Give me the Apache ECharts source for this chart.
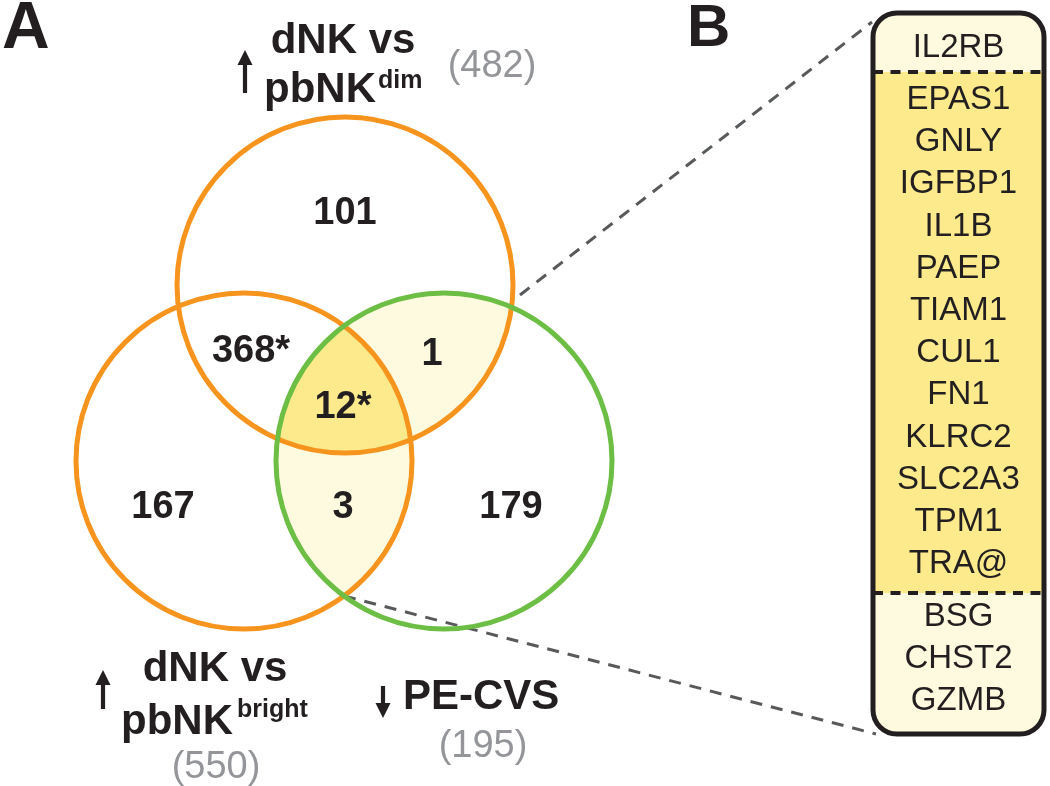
<!DOCTYPE html>
<html><head><meta charset="utf-8">
<script src="https://cdn.jsdelivr.net/npm/echarts@6/dist/echarts.min.js"></script>
<style>html,body{margin:0;padding:0;background:#fff}#c{width:1050px;height:786px}</style>
</head><body><div id="c"></div>
<script>
// ---------------- data ----------------
const setNames = ['dNK vs pbNK dim', 'dNK vs pbNK bright', 'PE-CVS'];
const setTotals = [482, 550, 195];
// regions: only top, top&left, only left, top&green, all three, left&green, only green
const regionCounts = [101, 368, 167, 1, 12, 3, 179];
const regionSignificant = [false, true, false, false, true, false, false];
const genesTopGreen = ['IL2RB'];
const genesAll = ['EPAS1', 'GNLY', 'IGFBP1', 'IL1B', 'PAEP', 'TIAM1', 'CUL1', 'FN1', 'KLRC2', 'SLC2A3', 'TPM1', 'TRA@'];
const genesLeftGreen = ['BSG', 'CHST2', 'GZMB'];

// ---------------- layout (positions / styles) ----------------
const W = 1050, H = 786;
const circleLayout = [ // cx, cy, r
  [345, 285, 168],
  [244, 461, 168],
  [444, 461, 168]
];
const circleColors = ['#F7941E', '#F7941E', '#6CBE45'];
const regionPos = [[345, 214], [251, 352], [163, 508], [432, 355], [343, 408], [343, 508], [511, 508]];
const LIGHT = '#FEFADF', DARK = '#FCEA8C', INK = '#231F20', GRAY = '#939598';
const FONT = "'Liberation Sans', Arial, Helvetica, sans-serif";

function inside(p, c, tol) {
  const dx = p[0] - c[0], dy = p[1] - c[1];
  return dx * dx + dy * dy <= (c[2] + tol) * (c[2] + tol);
}
function intersectionPolygon(ids) {
  const pts = [];
  ids.forEach(i => {
    const c = circleLayout[i];
    for (let k = 0; k < 1440; k++) {
      const a = k / 1440 * Math.PI * 2;
      const p = [c[0] + c[2] * Math.cos(a), c[1] + c[2] * Math.sin(a)];
      if (ids.every(j => j === i || inside(p, circleLayout[j], 0.01))) pts.push(p);
    }
  });
  const mx = pts.reduce((s, p) => s + p[0], 0) / pts.length;
  const my = pts.reduce((s, p) => s + p[1], 0) / pts.length;
  pts.sort((a, b) => Math.atan2(a[1] - my, a[0] - mx) - Math.atan2(b[1] - my, b[0] - mx));
  return pts;
}
const fillSets = [[0, 2], [1, 2], [0, 1, 2]];
const fillColors = [LIGHT, LIGHT, DARK];

const chart = echarts.init(document.getElementById('c'), null, { renderer: 'canvas' });

function txt(text, x, y, size, opts) {
  opts = opts || {};
  return {
    type: 'text', silent: true, z: 10,
    style: {
      text: text, x: x, y: y,
      font: (opts.bold ? 'bold ' : '') + size + 'px ' + FONT,
      fill: opts.fill || INK,
      align: opts.align || 'left',
      verticalAlign: 'middle'
    }
  };
}
function arrow(x, y1, y2) { // tip at y1
  const dir = y2 > y1 ? 1 : -1;
  const hl = 15, hw = 7.5;
  return [
    { type: 'line', silent: true, shape: { x1: x, y1: y1 + dir * (hl - 2), x2: x, y2: y2 }, style: { stroke: INK, lineWidth: 4.2 } },
    { type: 'polygon', silent: true, shape: { points: [[x, y1], [x - hw, y1 + dir * hl], [x + hw, y1 + dir * hl]] }, style: { fill: INK } }
  ];
}

// panel B
const box = { x: 873, y: 13, w: 171, h: 721, r: 24 };
const sep1 = 72, sep2 = 593;
const cxB = box.x + box.w / 2;
const graphics = [];
graphics.push({ type: 'rect', silent: true, shape: { x: box.x, y: box.y, width: box.w, height: box.h, r: box.r }, style: { fill: LIGHT } });
graphics.push({ type: 'rect', silent: true, shape: { x: box.x, y: sep1, width: box.w, height: sep2 - sep1 }, style: { fill: DARK } });
[sep1, sep2].forEach(yy => graphics.push({ type: 'line', silent: true, shape: { x1: box.x, y1: yy, x2: box.x + box.w, y2: yy }, style: { stroke: INK, lineWidth: 4, lineDash: [10, 7.5] } }));
graphics.push({ type: 'rect', silent: true, z: 5, shape: { x: box.x, y: box.y, width: box.w, height: box.h, r: box.r }, style: { fill: 'none', stroke: INK, lineWidth: 5 } });
genesTopGreen.forEach((g, i) => graphics.push(txt(g, cxB, 48 + i * 42.2, 33, { align: 'center' })));
genesAll.forEach((g, i) => graphics.push(txt(g, cxB, 100 + i * 42.2, 33, { align: 'center' })));
genesLeftGreen.forEach((g, i) => graphics.push(txt(g, cxB, 617 + i * 42, 33, { align: 'center' })));
// connector dashed lines
graphics.push({ type: 'line', silent: true, shape: { x1: 520, y1: 295, x2: 872, y2: 22 }, style: { stroke: '#58595B', lineWidth: 3, lineDash: [12, 9] } });
graphics.push({ type: 'line', silent: true, shape: { x1: 344, y1: 596, x2: 876, y2: 734 }, style: { stroke: '#58595B', lineWidth: 3, lineDash: [12, 9] } });

// panel letters
graphics.push(txt('A', 2, 30, 66, { bold: true }));
graphics.push(txt('B', 687, 29, 60, { bold: true }));

// set labels
graphics.push(...arrow(245, 50, 93));
graphics.push(txt('dNK vs', 343, 41, 42, { bold: true, align: 'center' }));
graphics.push(txt('pbNK', 264, 90, 42, { bold: true }));
graphics.push(txt('dim', 378, 81, 25, { bold: true }));
graphics.push(txt('(' + setTotals[0] + ')', 492, 67, 38, { fill: GRAY, align: 'center' }));

graphics.push(...arrow(103, 670, 709));
graphics.push(txt('dNK vs', 215, 669, 42, { bold: true, align: 'center' }));
graphics.push(txt('pbNK', 121, 722, 42, { bold: true }));
graphics.push(txt('bright', 237, 710, 25, { bold: true }));
graphics.push(txt('(' + setTotals[1] + ')', 216, 768, 38, { fill: GRAY, align: 'center' }));

graphics.push(...arrow(383, 718, 686));
graphics.push(txt('PE-CVS', 403, 697, 42, { bold: true }));
graphics.push(txt('(' + setTotals[2] + ')', 483, 747, 38, { fill: GRAY, align: 'center' }));

const option = {
  animation: false,
  backgroundColor: '#fff',
  grid: { left: 0, right: 0, top: 0, bottom: 0 },
  xAxis: { type: 'value', min: 0, max: W, show: false },
  yAxis: { type: 'value', min: 0, max: H, inverse: true, show: false },
  series: [
    {
      type: 'custom', clip: false, silent: true, z: 1,
      data: fillSets.map((s, i) => [i]),
      renderItem: function (params, api) {
        const i = params.dataIndex;
        const pts = intersectionPolygon(fillSets[i]).map(p => api.coord(p));
        return { type: 'polygon', shape: { points: pts }, style: { fill: fillColors[i], stroke: null } };
      }
    },
    {
      type: 'custom', clip: false, silent: true, z: 2,
      data: circleLayout.map(c => c.slice()),
      renderItem: function (params, api) {
        const c = api.coord([api.value(0), api.value(1)]);
        const r = api.size([api.value(2), 0])[0];
        return { type: 'circle', shape: { cx: c[0], cy: c[1], r: r }, style: { fill: 'none', stroke: circleColors[params.dataIndex], lineWidth: 5 } };
      }
    },
    {
      type: 'custom', clip: false, silent: true, z: 3,
      data: regionCounts.map((v, i) => [regionPos[i][0], regionPos[i][1], v]),
      renderItem: function (params, api) {
        const i = params.dataIndex;
        const c = api.coord([api.value(0), api.value(1)]);
        return {
          type: 'text',
          style: {
            text: String(api.value(2)) + (regionSignificant[i] ? '*' : ''),
            x: c[0], y: c[1], align: 'center', verticalAlign: 'middle',
            font: 'bold 38px ' + FONT, fill: INK
          }
        };
      }
    }
  ],
  graphic: graphics
};
chart.setOption(option);
</script>
</body></html>
